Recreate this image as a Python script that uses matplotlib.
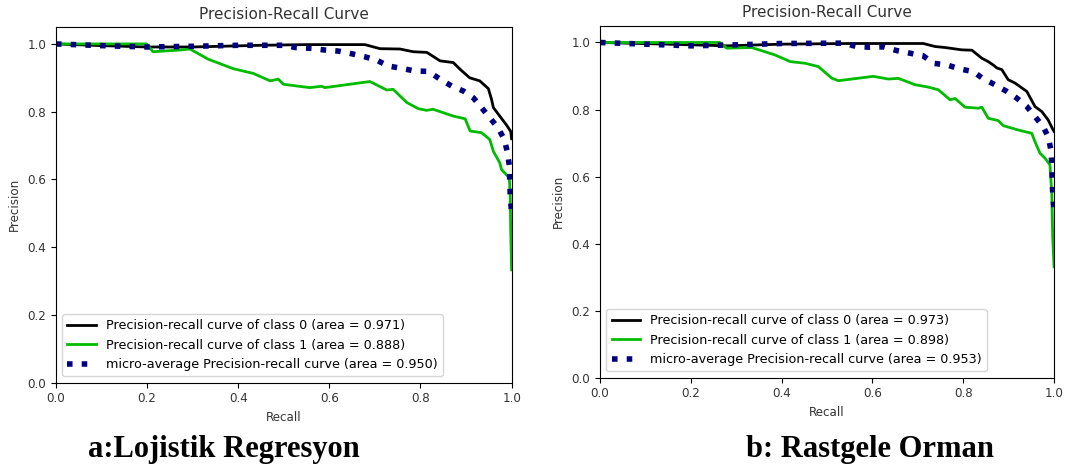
import matplotlib
matplotlib.use("Agg")
import matplotlib.pyplot as plt

# Lojistik Regresyon
lr_c0_recall = [0, 0.1, 0.2, 0.3, 0.45, 0.55, 0.678, 0.711, 0.755, 0.784, 0.814, 0.828, 0.843,
                0.872, 0.887, 0.908, 0.930, 0.949, 0.956, 0.960, 0.974, 0.988, 0.998, 1.0]
lr_c0_prec = [1.0, 0.995, 0.991, 0.991, 0.996, 0.998, 0.998, 0.986, 0.985, 0.977, 0.975, 0.963, 0.950,
              0.945, 0.925, 0.900, 0.891, 0.868, 0.836, 0.812, 0.787, 0.762, 0.742, 0.72]
lr_c1_recall = [0, 0.199, 0.213, 0.272, 0.294, 0.334, 0.389, 0.433, 0.470, 0.488, 0.499, 0.557, 0.583,
                0.590, 0.689, 0.726, 0.740, 0.770, 0.795, 0.813, 0.828, 0.872, 0.898, 0.909, 0.934,
                0.952, 0.960, 0.974, 0.978, 0.995, 0.997, 0.998, 1.0]
lr_c1_prec = [1.0, 1.0, 0.977, 0.982, 0.985, 0.955, 0.927, 0.913, 0.891, 0.896, 0.881, 0.871, 0.875,
              0.871, 0.889, 0.864, 0.866, 0.827, 0.809, 0.804, 0.807, 0.787, 0.779, 0.743, 0.738,
              0.718, 0.683, 0.649, 0.629, 0.605, 0.55, 0.45, 0.333]
lr_mi_recall = [0, 0.1, 0.2, 0.3, 0.4, 0.499, 0.528, 0.561, 0.590, 0.619, 0.649, 0.678, 0.704, 0.729,
                0.762, 0.788, 0.817, 0.843, 0.868, 0.894, 0.916, 0.934, 0.952, 0.970, 0.984, 0.991,
                0.995, 0.997, 1.0]
lr_mi_prec = [1.0, 0.995, 0.991, 0.993, 0.996, 0.996, 0.989, 0.987, 0.982, 0.979, 0.971, 0.962, 0.952,
              0.935, 0.927, 0.920, 0.919, 0.896, 0.876, 0.861, 0.841, 0.812, 0.782, 0.753, 0.718,
              0.679, 0.64, 0.55, 0.5]
lr_areas = [0.971, 0.888, 0.950]

# Rastgele Orman
rf_c0_recall = [0, 0.15, 0.28, 0.4, 0.55, 0.712, 0.738, 0.760, 0.797, 0.819, 0.841, 0.855, 0.866,
                0.874, 0.885, 0.899, 0.914, 0.940, 0.958, 0.973, 0.987, 0.998, 1.0]
rf_c0_prec = [1.0, 0.995, 0.990, 0.995, 0.997, 0.997, 0.988, 0.985, 0.978, 0.977, 0.953, 0.943, 0.933,
              0.924, 0.919, 0.889, 0.879, 0.854, 0.809, 0.794, 0.769, 0.739, 0.735]
rf_c1_recall = [0, 0.264, 0.279, 0.334, 0.385, 0.419, 0.452, 0.481, 0.510, 0.525, 0.602, 0.635, 0.657,
                0.694, 0.723, 0.745, 0.771, 0.782, 0.804, 0.833, 0.841, 0.855, 0.877, 0.888, 0.921,
                0.951, 0.958, 0.969, 0.980, 0.991, 0.995, 0.997, 1.0]
rf_c1_prec = [1.0, 1.0, 0.983, 0.985, 0.963, 0.943, 0.938, 0.928, 0.894, 0.886, 0.899, 0.891, 0.893,
              0.874, 0.867, 0.859, 0.829, 0.833, 0.807, 0.804, 0.807, 0.774, 0.767, 0.752, 0.739,
              0.729, 0.704, 0.670, 0.655, 0.635, 0.55, 0.42, 0.331]
rf_mi_recall = [0, 0.1, 0.2, 0.3, 0.4, 0.536, 0.565, 0.594, 0.624, 0.653, 0.683, 0.712, 0.734, 0.764,
                0.793, 0.822, 0.844, 0.870, 0.896, 0.918, 0.940, 0.958, 0.976, 0.987, 0.993, 0.995,
                0.997, 1.0]
rf_mi_prec = [1.0, 0.995, 0.99, 0.993, 0.997, 0.998, 0.988, 0.986, 0.987, 0.976, 0.968, 0.960, 0.938,
              0.933, 0.921, 0.913, 0.892, 0.874, 0.854, 0.834, 0.809, 0.779, 0.749, 0.719, 0.68,
              0.64, 0.55, 0.5]
rf_areas = [0.973, 0.898, 0.953]

captions = ["a:Lojistik Regresyon", "b: Rastgele Orman"]

green = plt.cm.nipy_spectral(0.5)
fs = 8.6


def draw_panel(ax, c0, c1, mi, areas):
    ax.plot(c0[0], c0[1], color="black", lw=2,
            label="Precision-recall curve of class 0 (area = {:.3f})".format(areas[0]))
    ax.plot(c1[0], c1[1], color=green, lw=2,
            label="Precision-recall curve of class 1 (area = {:.3f})".format(areas[1]))
    ax.plot(mi[0], mi[1], color="navy", lw=4, linestyle=":",
            label="micro-average Precision-recall curve (area = {:.3f})".format(areas[2]))
    ax.set_xlim(0.0, 1.0)
    ax.set_ylim(0.0, 1.05)
    ax.set_title("Precision-Recall Curve", fontsize=11, color="#333333")
    ax.set_xlabel("Recall", fontsize=fs, color="#333333")
    ax.set_ylabel("Precision", fontsize=fs, color="#333333")
    ax.yaxis.set_label_coords(-0.077, 0.5)
    ax.tick_params(labelsize=fs, labelcolor="#333333")
    ax.legend(loc="lower left", fontsize=9.2, handlelength=2.2)


fig = plt.figure(figsize=(10.89, 4.67), dpi=100)
ax1 = fig.add_axes([0.0514, 0.1805, 0.4184, 0.7617])
ax2 = fig.add_axes([0.551, 0.1912, 0.4169, 0.7537])

draw_panel(ax1, (lr_c0_recall, lr_c0_prec), (lr_c1_recall, lr_c1_prec),
           (lr_mi_recall, lr_mi_prec), lr_areas)
draw_panel(ax2, (rf_c0_recall, rf_c0_prec), (rf_c1_recall, rf_c1_prec),
           (rf_mi_recall, rf_mi_prec), rf_areas)

fig.text(224 / 1089, 1 - 457 / 467, captions[0], family="Liberation Serif",
         fontweight="bold", fontsize=22, ha="center", va="baseline")
fig.text(870 / 1089, 1 - 457 / 467, captions[1], family="Liberation Serif",
         fontweight="bold", fontsize=22, ha="center", va="baseline")

fig.savefig("out.png", dpi=100)
